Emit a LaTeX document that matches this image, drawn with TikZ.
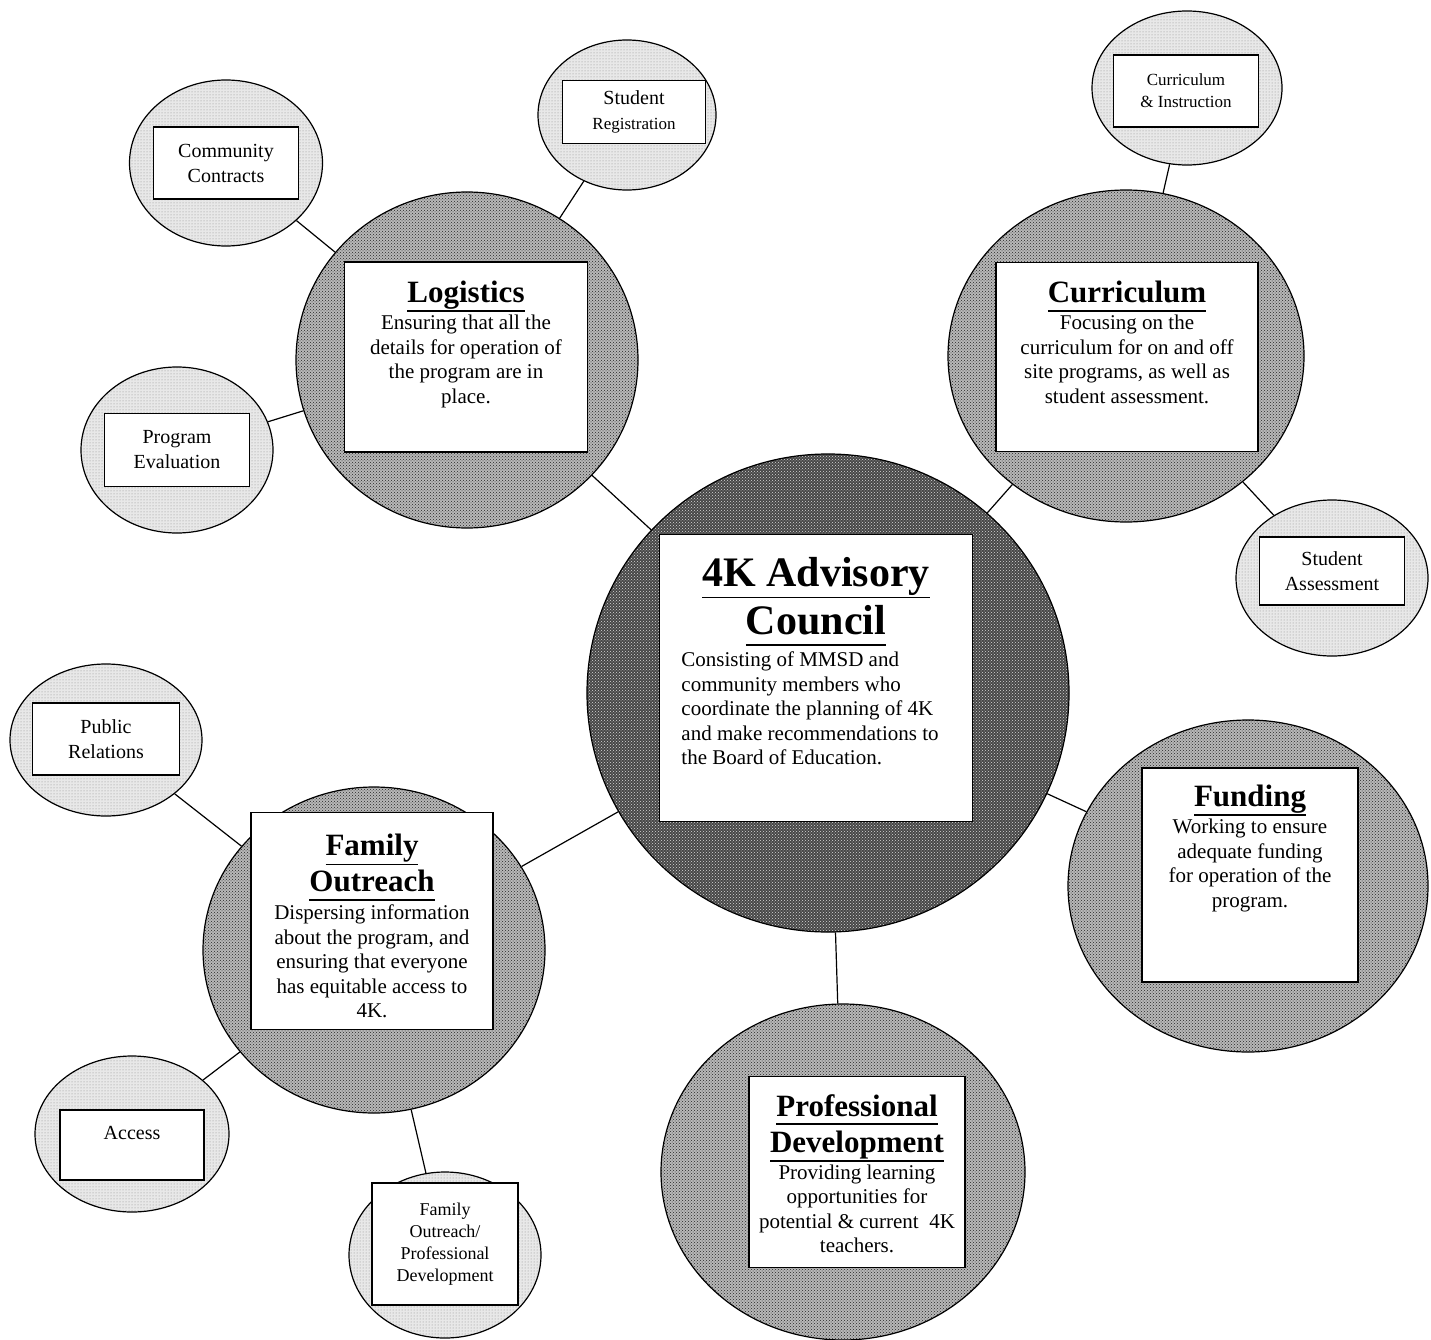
\documentclass[tikz,border=0pt]{standalone}
\usepackage{fontspec}
\setmainfont{Liberation Serif}
\usetikzlibrary{positioning,shapes.geometric,patterns}
\newcommand{\hdline}[1]{\leavevmode\vtop{\hbox{\vrule width0pt depth0.2em #1}\kern1pt\hrule height1.8pt}}

\begin{document}
\begin{tikzpicture}[x=1pt,y=-1pt,line width=1.2pt,
    hub/.style={ellipse,draw,inner sep=0pt,preaction={fill=black!72},preaction={pattern=crosshatch dots,pattern color=white!85!black}},
    area/.style={ellipse,draw,inner sep=0pt,preaction={fill=black!28},preaction={pattern=crosshatch dots,pattern color=black!85}},
    leaf/.style={ellipse,draw,inner sep=0pt,preaction={fill=black!9},preaction={pattern=dots,pattern color=black!45}},
    card/.style={rectangle,draw,line width=1.6pt,fill=white,inner sep=0pt},
    tag/.style={rectangle,draw,line width=1.6pt,fill=white,align=center,inner sep=0pt,font=\fontsize{20}{25}\selectfont},
    head/.style={align=center,inner sep=0pt,font=\bfseries\fontsize{31}{36}\selectfont},
    body/.style={align=center,inner sep=0pt,font=\fontsize{21}{24.5}\selectfont}]
    \useasboundingbox (0,0) rectangle (1431,1340);

    % Advisory council
    \node[hub,minimum width=482pt,minimum height=478pt] (hub) at (828,693) {};
    \node[card,minimum width=313pt,minimum height=287pt] (hubbox) at (816,678) {};
    \node[head,font=\bfseries\fontsize{42}{48}\selectfont,below=23pt of hubbox.north] (hubhead) {\hdline{4K Advisory}\\\hdline{Council}};
    \node[body,align=left,below=5pt of hubhead,xshift=-6pt] (hubtext) {Consisting of MMSD and\\community members who\\coordinate the planning of 4K\\and make recommendations to\\the Board of Education.};

    % Logistics
    \node[area,minimum width=342pt,minimum height=336pt] (log) at (467,360) {};
    \node[card,minimum width=243pt,minimum height=190pt] (logbox) at (466,357) {};
    \node[head,below=19pt of logbox.north] (loghead) {\hdline{Logistics}};
    \node[body,below=2pt of loghead] (logtext) {Ensuring that all the\\details for operation of\\the program are in\\place.};

    % Curriculum
    \node[area,minimum width=356pt,minimum height=332pt] (cur) at (1126,356) {};
    \node[card,minimum width=262pt,minimum height=189pt] (curbox) at (1127,357) {};
    \node[head,below=19pt of curbox.north] (curhead) {\hdline{Curriculum}};
    \node[body,below=2pt of curhead] (curtext) {Focusing on the\\curriculum for on and off\\site programs, as well as\\student assessment.};

    % Funding
    \node[area,minimum width=360pt,minimum height=332pt] (fund) at (1248,886) {};
    \node[card,minimum width=216pt,minimum height=214pt] (fundbox) at (1250,875) {};
    \node[head,below=17pt of fundbox.north] (fundhead) {\hdline{Funding}};
    \node[body,below=2pt of fundhead] (fundtext) {Working to ensure\\adequate funding\\for operation of the\\program.};

    % Professional development
    \node[area,minimum width=364pt,minimum height=336pt] (pd) at (843,1172) {};
    \node[card,minimum width=216pt,minimum height=191pt] (pdbox) at (857,1172) {};
    \node[head,below=18pt of pdbox.north] (pdhead) {\hdline{Professional}\\\hdline{Development}};
    \node[body,below=2pt of pdhead] (pdtext) {Providing learning\\opportunities for\\potential \& current\ \ 4K\\teachers.};

    % Family outreach
    \node[area,minimum width=342pt,minimum height=326pt] (fam) at (374,950) {};
    \node[card,minimum width=242pt,minimum height=217pt] (fambox) at (372,921) {};
    \node[head,below=22pt of fambox.north] (famhead) {\hdline{Family}\\\hdline{Outreach}};
    \node[body,below=3pt of famhead] (famtext) {Dispersing information\\about the program, and\\ensuring that everyone\\has equitable access to\\4K.};

    % Sub-committees
    \node[leaf,minimum width=193pt,minimum height=166pt] (comm) at (226,163) {};
    \node[tag,minimum width=145pt,minimum height=72pt] (commtag) at (226,163) {Community\\Contracts};
    \node[leaf,minimum width=178pt,minimum height=150pt] (reg) at (627,115) {};
    \node[tag,minimum width=143pt,minimum height=63pt] (regtag) at (634,112) {Student\\{\fontsize{17}{21}\selectfont Registration}};
    \node[leaf,minimum width=192pt,minimum height=166pt] (eval) at (177,450) {};
    \node[tag,minimum width=145pt,minimum height=73pt] (evaltag) at (177,450) {Program\\Evaluation};

    \node[leaf,minimum width=190pt,minimum height=154pt] (ci) at (1187,88) {};
    \node[tag,minimum width=145pt,minimum height=72pt,font=\fontsize{17}{22}\selectfont] (citag) at (1186,91) {Curriculum\\\& Instruction};
    \node[leaf,minimum width=192pt,minimum height=156pt] (assess) at (1332,578) {};
    \node[tag,minimum width=145pt,minimum height=68pt] (assesstag) at (1332,571) {Student\\Assessment};

    \node[leaf,minimum width=192pt,minimum height=152pt] (pr) at (106,740) {};
    \node[tag,minimum width=147pt,minimum height=72pt] (prtag) at (106,739) {Public\\Relations};
    \node[leaf,minimum width=194pt,minimum height=156pt] (access) at (132,1134) {};
    \node[tag,minimum width=144pt,minimum height=70pt] (accesstag) at (132,1145) {Access\\\mbox{}};
    \node[leaf,minimum width=192pt,minimum height=166pt] (fopd) at (445,1255) {};
    \node[tag,minimum width=146pt,minimum height=122pt,font=\fontsize{18}{22}\selectfont] (fopdtag) at (445,1244) {Family\\Outreach/\\Professional\\Development};

    % Connectors
    \draw (hub) -- (log);
    \draw (hub) -- (cur);
    \draw (hub) -- (fund);
    \draw (hub) -- (pd);
    \draw (hub) -- (fam);
    \draw (log) -- (comm);
    \draw (log) -- (reg);
    \draw (log) -- (eval);
    \draw (cur) -- (ci);
    \draw (cur) -- (assess);
    \draw (fam) -- (pr);
    \draw (fam) -- (access);
    \draw (fam) -- (fopd);
\end{tikzpicture}
\end{document}
